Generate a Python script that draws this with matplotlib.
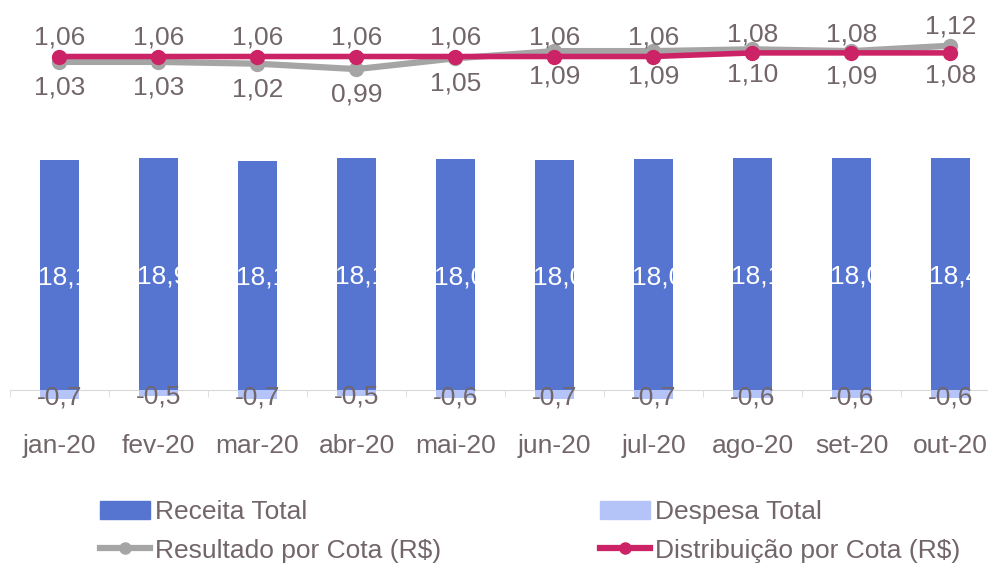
import numpy as np
import matplotlib.pyplot as plt
from matplotlib.lines import Line2D
from matplotlib.patches import Patch

plt.rcParams['font.family'] = ['Liberation Sans', 'DejaVu Sans']

# dados
meses = ['jan-20', 'fev-20', 'mar-20', 'abr-20', 'mai-20',
         'jun-20', 'jul-20', 'ago-20', 'set-20', 'out-20']
receita = [18.10, 18.26, 18.06, 18.26, 18.18, 18.10, 18.18, 18.23, 18.23, 18.22]
receita_txt = ['18,1', '18,9', '18,1', '18,1', '18,0', '18,0', '18,0', '18,1', '18,0', '18,4']
despesa = [-0.7, -0.5, -0.7, -0.5, -0.6, -0.7, -0.7, -0.6, -0.6, -0.6]
resultado = [1.03, 1.03, 1.02, 0.99, 1.05, 1.09, 1.09, 1.10, 1.09, 1.12]
distribuicao = [1.06, 1.06, 1.06, 1.06, 1.06, 1.06, 1.06, 1.08, 1.08, 1.08]

c_rec = '#5675D0'
c_desp = '#B4C4F8'
c_res = '#A5A5A5'
c_dist = '#CC2366'
tc = '#726669'
fs = 19

fig = plt.figure(figsize=(9.88, 5.65), dpi=100)
ax = fig.add_axes([10 / 988, 1 - 410 / 565, 990 / 988, 390 / 565])
x = np.arange(len(meses))

bars = ax.bar(x, receita, width=0.4, color=c_rec, zorder=2)
ax.bar(x, despesa, width=0.4, color=c_desp, zorder=2)
ax.set_xlim(-0.5, 9.5)
px = 230 / 18.1
ax.set_ylim(-20 / px, 370 / px)

for s in ['top', 'left', 'right']:
    ax.spines[s].set_visible(False)
ax.spines['bottom'].set_position(('data', 0))
ax.spines['bottom'].set_color('#D9D9D9')
ax.spines['bottom'].set_zorder(1)
ax.set_yticks([])
ax.set_xticks(x, meses)
ax.tick_params(axis='x', which='major', length=0, pad=32, labelsize=fs, labelcolor=tc)
ax.set_xticks(np.arange(-0.5, 10, 1), minor=True)
ax.tick_params(axis='x', which='minor', length=5, color='#D9D9D9', direction='out')

# rotulos das barras
for xi, r, txt, b in zip(x, receita, receita_txt, bars):
    t = ax.text(xi + 0.04, r / 2 - 0.2, txt, ha='center', va='center', color='white',
                fontsize=fs, zorder=3)
    t.set_clip_path(b)
for xi, d in zip(x, despesa):
    ax.annotate(f'{d:.1f}'.replace('.', ','), (xi, d / 2), xytext=(0, -2.5),
                textcoords='offset points', ha='center', va='center',
                color=tc, fontsize=fs, zorder=3)

# linhas no eixo secundario
ax2 = ax.twinx()
lpx = 180
ax2.set_ylim(1.06 - (410 - 56.5) / lpx, 1.06 + (56.5 - 20) / lpx)
ax2.set_yticks([])
for s in ax2.spines.values():
    s.set_visible(False)

ax2.plot(x, resultado, color=c_res, lw=4.5, marker='o', ms=10, clip_on=False, zorder=3)
ax2.plot(x, distribuicao, color=c_dist, lw=4, marker='o', ms=10, clip_on=False, zorder=4)

n = len(x)
for i in range(n):
    up = i < n - 1
    ax2.annotate(f'{distribuicao[i]:.2f}'.replace('.', ','), (x[i], distribuicao[i]),
                 xytext=(0, 13.5 if up else -16.5), textcoords='offset points',
                 ha='center', va='center', color=tc, fontsize=fs, annotation_clip=False)
    ax2.annotate(f'{resultado[i]:.2f}'.replace('.', ','), (x[i], resultado[i]),
                 xytext=(0, -18.5 if up else 14), textcoords='offset points',
                 ha='center', va='center', color=tc, fontsize=fs, annotation_clip=False)

# legenda
h_rec = Patch(color=c_rec)
h_desp = Patch(color=c_desp)
h_res = Line2D([], [], color=c_res, lw=4.5, marker='o', ms=8)
h_dist = Line2D([], [], color=c_dist, lw=4.5, marker='o', ms=8)
kw = dict(loc='upper left', frameon=False, fontsize=fs, labelcolor=tc, handlelength=1.9,
          handletextpad=0.2, labelspacing=0.55, borderpad=0, borderaxespad=0)
fig.legend([h_rec, h_res], ['Receita Total', 'Resultado por Cota (R$)'],
           bbox_to_anchor=(100 / 988, 1 - 500 / 565), **kw)
fig.legend([h_desp, h_dist], ['Despesa Total', 'Distribuição por Cota (R$)'],
           bbox_to_anchor=(600 / 988, 1 - 500 / 565), **kw)

fig.savefig('out.png', dpi=100)
